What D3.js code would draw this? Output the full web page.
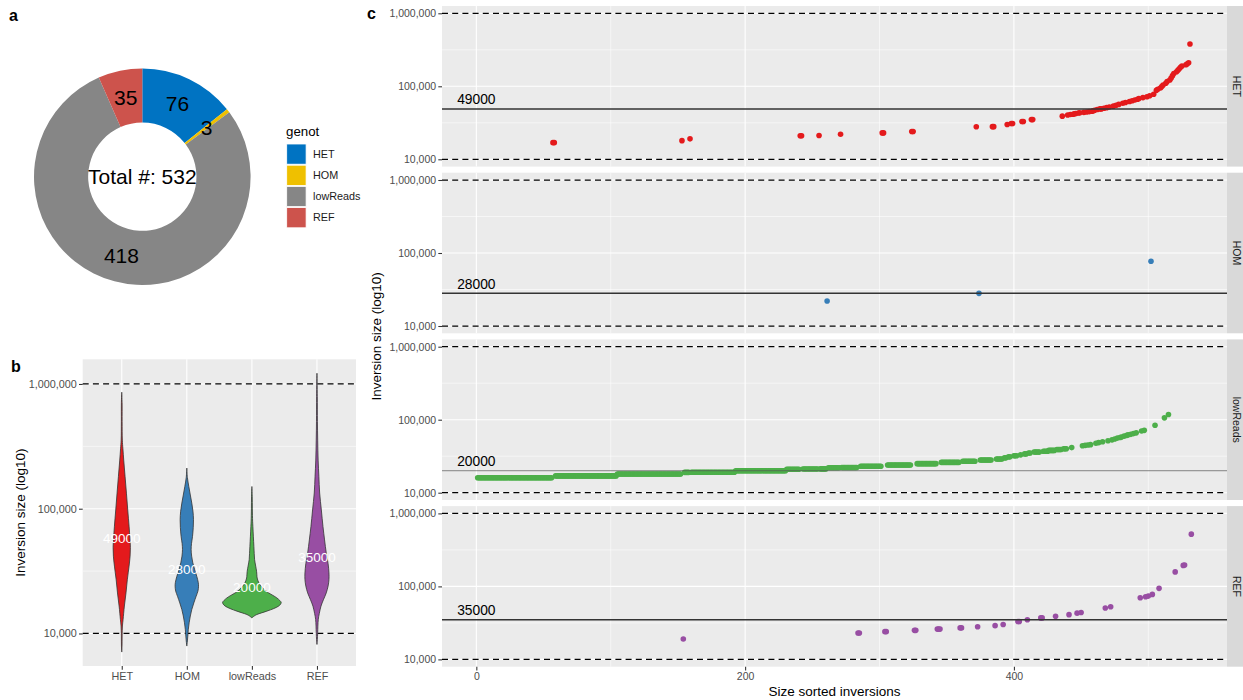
<!DOCTYPE html>
<html>
<head>
<meta charset="utf-8">
<script src="https://cdn.jsdelivr.net/npm/d3@7"></script>
<style>
  body { margin: 0; background: #fff; }
  svg { display: block; }
  text { font-family: "Liberation Sans", Arial, Helvetica, sans-serif; }
</style>
</head>
<body>
<svg id="fig" width="1243" height="700"></svg>
<script>
// ---------------- data ----------------
const genotypes = ["HET", "HOM", "lowReads", "REF"];
const genotypeCounts = [76, 3, 418, 35];
const medianSizes = [49000, 28000, 20000, 35000];

const donutColors = ["#0073C2", "#EFC000", "#868686", "#CD534C"];
const groupColors = ["#E41A1C", "#377EB8", "#4DAF4A", "#984EA3"];

// inversion sizes (bp) per genotype
const hetSizes = [
  16900, 16900, 18000, 19050, 21050, 21050, 21150, 22050, 23000, 23000, 24000, 24000, 27900, 28000, 28000,
  30000, 31000, 31000, 33000, 33000, 35000, 35000, 39000,
  40500, 41000, 41500, 42000, 42500, 43000, 43500, 44000, 44500, 45000, 45500, 46000, 47000, 48000,
  49000, 49000,
  50000, 51000, 52000, 53500, 55000, 56500, 58500, 60000, 62000, 63500, 65000, 66500, 68000, 70000, 72000,
  74300, 77700,
  88000, 91000, 95000, 99000, 104000, 110000, 116000, 122000, 130000, 140000, 150000, 158000, 166000,
  174000, 182000, 190000, 197000, 204000, 210000,
  380000
];
const homSizes = [22000, 28000, 77000];
const refSizes = [
  19000, 23000, 23000, 24000, 24000, 25000, 25000, 26000, 26000, 26000, 27000, 27000, 28000, 29000, 30000,
  33000, 33000, 35000, 37000, 37000, 39000, 41000, 43000, 44000, 50500, 52600, 69800, 72000, 73600, 77700,
  94000, 158000, 194000, 196000, 520000
];
// lowReads: [size (bp), number of inversions of that size]
const lowReadsSizeCounts = [
  [16000, 56], [17000, 46], [18000, 48], [19000, 4], [19100, 33], [20000, 38], [21000, 10], [21100, 12],
  [21200, 5], [22000, 9], [22100, 12], [23000, 16], [24000, 18], [25000, 15], [26000, 14], [27000, 10],
  [28000, 9], [29000, 5], [30000, 2], [31000, 2], [32000, 3], [33000, 1], [34000, 2], [35000, 2],
  [36000, 5], [37000, 4], [38000, 5], [39000, 4], [40000, 3],
  [41500, 1], [44000, 1], [44500, 1], [45000, 1], [45500, 1], [47500, 1], [48500, 1], [50000, 1], [51500, 1],
  [53000, 1], [54500, 1], [56000, 1], [57000, 1], [58000, 1], [59500, 1], [61000, 1], [62000, 1], [63000, 1],
  [64500, 1], [66000, 1], [70000, 1], [71500, 1], [84000, 1], [106000, 1], [118000, 1]
];

// violin outlines: [log10 size, relative density (1 = widest)]
const hetViolin = [
  [5.934, 0], [5.85, 0.012], [5.70, 0.013], [5.55, 0.02], [5.48, 0.04], [5.39, 0.068], [5.26, 0.113],
  [5.125, 0.16], [4.99, 0.205], [4.86, 0.25], [4.76, 0.28], [4.69, 0.295], [4.62, 0.285], [4.54, 0.25],
  [4.43, 0.19], [4.325, 0.145], [4.22, 0.09], [4.11, 0.045], [4.06, 0.023], [3.98, 0.013], [3.90, 0.01],
  [3.851, 0]
];
const homViolin = [
  [5.326, 0], [5.25, 0.02], [5.178, 0.068], [5.11, 0.12], [5.045, 0.17], [4.98, 0.21], [4.912, 0.228],
  [4.85, 0.22], [4.778, 0.195], [4.72, 0.16], [4.672, 0.148], [4.62, 0.165], [4.566, 0.205], [4.51, 0.27],
  [4.458, 0.34], [4.41, 0.39], [4.379, 0.4], [4.34, 0.38], [4.298, 0.318], [4.245, 0.24], [4.192, 0.17],
  [4.14, 0.12], [4.086, 0.08], [4.03, 0.05], [3.979, 0.034], [3.94, 0.02], [3.899, 0]
];
const lowReadsViolin = [
  [5.178, 0], [5.10, 0.012], [5.0, 0.016], [4.90, 0.025], [4.858, 0.034], [4.78, 0.05], [4.698, 0.068],
  [4.64, 0.08], [4.592, 0.092], [4.54, 0.13], [4.499, 0.16], [4.47, 0.17], [4.445, 0.18], [4.41, 0.23],
  [4.379, 0.317], [4.35, 0.43], [4.325, 0.57], [4.305, 0.72], [4.285, 0.853], [4.265, 0.95], [4.25, 1.0],
  [4.235, 0.98], [4.219, 0.91], [4.20, 0.75], [4.179, 0.51], [4.165, 0.33], [4.152, 0.17], [4.14, 0.08],
  [4.125, 0]
];
const refViolin = [
  [6.086, 0], [5.9, 0.012], [5.7, 0.016], [5.55, 0.025], [5.39, 0.04], [5.26, 0.065], [5.126, 0.092],
  [4.99, 0.15], [4.858, 0.205], [4.75, 0.26], [4.646, 0.317], [4.56, 0.38], [4.486, 0.41], [4.432, 0.41],
  [4.38, 0.38], [4.325, 0.317], [4.27, 0.22], [4.219, 0.137], [4.16, 0.08], [4.112, 0.045], [4.005, 0.024],
  [3.95, 0.013], [3.912, 0]
];

const sizeTicks = [10000, 100000, 1000000];
const sizeMinorTicks = [Math.pow(10, 4.5), Math.pow(10, 5.5)];
const referenceSizes = [10000, 1000000];
const rankTicks = [0, 200, 400];
const rankMinorTicks = [100, 300, 500];

// ---------------- helpers ----------------
const svg = d3.select("#fig");
const BG = "#EBEBEB";
const fmt = d3.format(",");

function styleAxis(g, fontSize) {
  g.select(".domain").remove();
  g.selectAll(".tick line").attr("stroke", "#333333").attr("stroke-width", 1.07);
  g.selectAll(".tick text").attr("fill", "#4D4D4D").style("font-size", fontSize + "px");
}
function panelLabel(x, y, t) {
  svg.append("text").attr("x", x).attr("y", y).style("font-size", "16px")
    .style("font-weight", "bold").attr("fill", "#000").text(t);
}
function dashed(g, x1, x2, y) {
  g.append("line").attr("x1", x1).attr("x2", x2).attr("y1", y).attr("y2", y)
    .attr("stroke", "#000").attr("stroke-width", 1.25).attr("stroke-dasharray", "6,4.2");
}

// ---------------- panel a : donut ----------------
panelLabel(9, 21, "a");
{
  const cx = 142.3, cy = 176.7, rOuter = 108.3, rInner = rOuter / 2;
  const pie = d3.pie().sort(null).value(d => d)(genotypeCounts);
  const arc = d3.arc().innerRadius(rInner).outerRadius(rOuter);
  const labelArc = d3.arc().innerRadius(rOuter * 0.75).outerRadius(rOuter * 0.75);
  const g = svg.append("g").attr("transform", `translate(${cx},${cy})`);
  g.selectAll("path").data(pie).join("path")
    .attr("d", arc).attr("fill", (d, i) => donutColors[i]);
  g.selectAll("text.count").data(pie).join("text").attr("class", "count")
    .attr("transform", d => `translate(${labelArc.centroid(d)})`)
    .attr("text-anchor", "middle").attr("dy", "0.36em")
    .style("font-size", "21px").attr("fill", "#000").text(d => d.data);
  g.append("text").attr("text-anchor", "middle").attr("dy", "0.36em")
    .style("font-size", "21px").attr("fill", "#000")
    .text("Total #: " + d3.sum(genotypeCounts));

  // legend
  const lg = svg.append("g");
  lg.append("text").attr("x", 286).attr("y", 131.7).attr("dy", "0.35em")
    .style("font-size", "13.3px").attr("fill", "#000").text("genot");
  genotypes.forEach((name, i) => {
    const y0 = 144 + i * 21.2;
    lg.append("rect").attr("x", 286.7).attr("y", y0).attr("width", 19.4).attr("height", 20.2)
      .attr("fill", donutColors[i]).attr("stroke", "#fff").attr("stroke-width", 0.8);
    lg.append("text").attr("x", 313).attr("y", y0 + 10.1).attr("dy", "0.35em")
      .style("font-size", "10.8px").attr("fill", "#1A1A1A").text(name);
  });
}

// ---------------- panel b : violins ----------------
panelLabel(11, 372, "b");
{
  const L = 82.7, R = 356, T = 359.3, B = 666;
  const violins = [hetViolin, homViolin, lowReadsViolin, refViolin];
  const xb = d3.scalePoint().domain(genotypes).range([L, R]).padding(0.6);
  const ext = d3.extent(violins.flat(), d => d[0]);
  const pad = (ext[1] - ext[0]) * 0.05;
  const yb = d3.scaleLog().domain([Math.pow(10, ext[0] - pad), Math.pow(10, ext[1] + pad)]).range([B, T]);
  const halfMax = xb.step() * 0.45;

  const g = svg.append("g");
  g.append("rect").attr("x", L).attr("y", T).attr("width", R - L).attr("height", B - T).attr("fill", BG);
  sizeMinorTicks.forEach(v => g.append("line").attr("x1", L).attr("x2", R)
    .attr("y1", yb(v)).attr("y2", yb(v)).attr("stroke", "#fff").attr("stroke-width", 0.55));
  sizeTicks.forEach(v => g.append("line").attr("x1", L).attr("x2", R)
    .attr("y1", yb(v)).attr("y2", yb(v)).attr("stroke", "#fff").attr("stroke-width", 1.1));
  genotypes.forEach(c => g.append("line").attr("x1", xb(c)).attr("x2", xb(c))
    .attr("y1", T).attr("y2", B).attr("stroke", "#fff").attr("stroke-width", 1.1));
  referenceSizes.forEach(v => dashed(g, L, R, yb(v)));

  violins.forEach((prof, i) => {
    const cx = xb(genotypes[i]);
    const area = d3.area().curve(d3.curveCatmullRom.alpha(0.5))
      .y(d => yb(Math.pow(10, d[0])))
      .x0(d => cx - d[1] * halfMax)
      .x1(d => cx + d[1] * halfMax);
    g.append("path").attr("d", area(prof)).attr("fill", groupColors[i])
      .attr("stroke", "#333333").attr("stroke-width", 0.8);
  });
  genotypes.forEach((c, i) => g.append("text").attr("x", xb(c)).attr("y", yb(medianSizes[i]) - 4)
    .attr("text-anchor", "middle").style("font-size", "13.5px").attr("fill", "#fff").text(medianSizes[i]));

  const ya = g.append("g").attr("transform", `translate(${L},0)`)
    .call(d3.axisLeft(yb).tickValues(sizeTicks).tickFormat(fmt).tickSize(3.7).tickPadding(2.2));
  styleAxis(ya, 10.8);
  const xa = g.append("g").attr("transform", `translate(0,${B})`)
    .call(d3.axisBottom(xb).tickSize(3.7).tickPadding(2.4));
  styleAxis(xa, 10.8);
  g.append("text").attr("transform", `translate(24.5,${(T + B) / 2}) rotate(-90)`)
    .attr("text-anchor", "middle").style("font-size", "13.5px").attr("fill", "#000")
    .text("Inversion size (log10)");
}

// ---------------- panel c : size-sorted inversions by genotype ----------------
panelLabel(367, 19, "c");
{
  const L = 442, R = 1227, top0 = 6, H = 160.6, gap = 6.1;
  const records = [];
  hetSizes.forEach(s => records.push({ g: 0, size: s }));
  homSizes.forEach(s => records.push({ g: 1, size: s }));
  lowReadsSizeCounts.forEach(([s, n]) => { for (let k = 0; k < n; k++) records.push({ g: 2, size: s }); });
  refSizes.forEach(s => records.push({ g: 3, size: s }));
  // order of genotypes among inversions of equal size: REF, HOM, lowReads, HET
  const tieOrder = [3, 1, 2, 0];
  records.sort((a, b) => a.size - b.size || tieOrder[a.g] - tieOrder[b.g]);
  records.forEach((r, i) => { r.rank = i + 1; });

  const n = records.length;
  const xPad = (n - 1) * 0.05;
  const xc = d3.scaleLinear().domain([1 - xPad, n + xPad]).range([L, R]);
  const lext = d3.extent(records.map(r => r.size).concat(referenceSizes), v => Math.log10(v));
  const yPad = (lext[1] - lext[0]) * 0.05;

  genotypes.forEach((name, gi) => {
    const T = top0 + gi * (H + gap), B = T + H;
    const yc = d3.scaleLog().domain([Math.pow(10, lext[0] - yPad), Math.pow(10, lext[1] + yPad)]).range([B, T]);
    const g = svg.append("g");
    g.append("rect").attr("x", L).attr("y", T).attr("width", R - L).attr("height", H).attr("fill", BG);
    sizeMinorTicks.forEach(v => g.append("line").attr("x1", L).attr("x2", R)
      .attr("y1", yc(v)).attr("y2", yc(v)).attr("stroke", "#fff").attr("stroke-width", 0.55));
    rankMinorTicks.forEach(v => g.append("line").attr("x1", xc(v)).attr("x2", xc(v))
      .attr("y1", T).attr("y2", B).attr("stroke", "#fff").attr("stroke-width", 0.55));
    sizeTicks.forEach(v => g.append("line").attr("x1", L).attr("x2", R)
      .attr("y1", yc(v)).attr("y2", yc(v)).attr("stroke", "#fff").attr("stroke-width", 1.1));
    rankTicks.forEach(v => g.append("line").attr("x1", xc(v)).attr("x2", xc(v))
      .attr("y1", T).attr("y2", B).attr("stroke", "#fff").attr("stroke-width", 1.1));
    referenceSizes.forEach(v => dashed(g, L, R, yc(v)));

    g.selectAll("circle").data(records.filter(r => r.g === gi)).join("circle")
      .attr("cx", d => xc(d.rank)).attr("cy", d => yc(d.size)).attr("r", 2.8)
      .attr("fill", groupColors[gi]);

    const thin = name === "lowReads";
    g.append("line").attr("x1", L).attr("x2", R)
      .attr("y1", yc(medianSizes[gi])).attr("y2", yc(medianSizes[gi]))
      .attr("stroke", thin ? "#555" : "#333").attr("stroke-width", thin ? 0.7 : 1.5);
    g.append("text").attr("x", xc(0)).attr("y", yc(medianSizes[gi]) - 4.6)
      .attr("text-anchor", "middle").style("font-size", "13.8px").attr("fill", "#000")
      .text(medianSizes[gi]);

    const ya = g.append("g").attr("transform", `translate(${L},0)`)
      .call(d3.axisLeft(yc).tickValues(sizeTicks).tickFormat(fmt).tickSize(3.7).tickPadding(2.2));
    styleAxis(ya, 10.5);

    // facet strip
    g.append("rect").attr("x", R).attr("y", T).attr("width", 20).attr("height", H).attr("fill", "#D9D9D9");
    g.append("text").attr("transform", `translate(${R + 9.5},${T + H / 2}) rotate(90)`)
      .attr("text-anchor", "middle").attr("dy", "0.35em").style("font-size", "10.5px")
      .attr("fill", "#1A1A1A").text(name);

    if (gi === genotypes.length - 1) {
      const xa = g.append("g").attr("transform", `translate(0,${B})`)
        .call(d3.axisBottom(xc).tickValues(rankTicks).tickSize(3.7).tickPadding(2.5));
      styleAxis(xa, 10.5);
    }
  });

  const bottom = top0 + 4 * H + 3 * gap;
  svg.append("text").attr("x", (L + R) / 2).attr("y", 696).attr("text-anchor", "middle")
    .style("font-size", "13.5px").attr("fill", "#000").text("Size sorted inversions");
  svg.append("text").attr("transform", `translate(380.5,${(top0 + bottom) / 2}) rotate(-90)`)
    .attr("text-anchor", "middle").style("font-size", "13.5px").attr("fill", "#000")
    .text("Inversion size (log10)");
}
</script>
</body>
</html>
